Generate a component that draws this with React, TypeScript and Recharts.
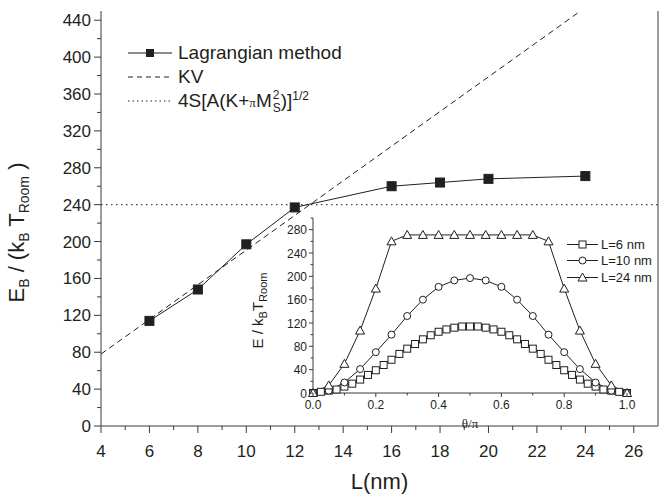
import { LineChart, Line, XAxis, YAxis, ReferenceLine, Legend } from "recharts";

// main plot: barrier energy vs. length
const lengths = [6, 8, 10, 12, 16, 18, 20, 24];
const lagrangianEnergy = [114, 148, 197, 237, 260, 264, 268, 271];
const kvLengths = [4, 23.8];
const kvEnergy = [78, 450];
const analyticLimit = 240;

const mainXTicks = [4, 5, 6, 7, 8, 9, 10, 11, 12, 13, 14, 15, 16, 17, 18, 19, 20, 21, 22, 23, 24, 25, 26];
const mainYTicks = [0, 20, 40, 60, 80, 100, 120, 140, 160, 180, 200, 220, 240, 260, 280, 300, 320, 340, 360, 380, 400, 420, 440];

// inset: energy profile along theta/pi
const theta6 = [
  0, 0.025, 0.05, 0.075, 0.1, 0.125, 0.15, 0.175, 0.2, 0.225, 0.25, 0.275, 0.3, 0.325, 0.35, 0.375, 0.4, 0.425, 0.45, 0.475,
  0.5, 0.525, 0.55, 0.575, 0.6, 0.625, 0.65, 0.675, 0.7, 0.725, 0.75, 0.775, 0.8, 0.825, 0.85, 0.875, 0.9, 0.925, 0.95, 0.975, 1,
];
const energy6 = [
  0, 2, 4, 6, 11, 16, 23, 31, 39, 48, 57, 67, 76, 84, 92, 99, 105, 109, 112, 114,
  114, 114, 112, 109, 105, 99, 92, 84, 76, 67, 57, 48, 39, 31, 23, 16, 11, 6, 4, 2, 0,
];
const theta = [0, 0.05, 0.1, 0.15, 0.2, 0.25, 0.3, 0.35, 0.4, 0.45, 0.5, 0.55, 0.6, 0.65, 0.7, 0.75, 0.8, 0.85, 0.9, 0.95, 1];
const energy10 = [0, 4, 18, 41, 70, 100, 132, 160, 182, 193, 197, 193, 182, 160, 132, 100, 70, 41, 18, 4, 0];
const energy24 = [0, 13, 50, 107, 179, 260, 271, 271, 271, 271, 271, 271, 271, 271, 271, 260, 179, 107, 50, 13, 0];

const insetXTicks = [0, 0.1, 0.2, 0.3, 0.4, 0.5, 0.6, 0.7, 0.8, 0.9, 1];
const insetYTicks = [0, 20, 40, 60, 80, 100, 120, 140, 160, 180, 200, 220, 240, 260, 280, 300];

const FONT = '"Liberation Sans", Arial, Helvetica, sans-serif';
const INK = "#231f20";
const AXIS = "#3a3a3a";

const zip = (xs: number[], ys: number[]) => xs.map((x, i) => ({ x, y: ys[i] }));

const lagrangianData = zip(lengths, lagrangianEnergy);
const kvData = zip(kvLengths, kvEnergy);
const l6Data = zip(theta6, energy6);
const l10Data = zip(theta, energy10);
const l24Data = zip(theta, energy24);

// eslint-disable-next-line @typescript-eslint/no-explicit-any
function MainXTick({ x, y, payload }: any) {
  const major = payload.value % 2 === 0;
  return (
    <g>
      <line x1={x} x2={x} y1={y} y2={y + (major ? 7 : 4)} stroke={AXIS} />
      {major && (
        <text x={x} y={y + 31} textAnchor="middle" fontSize={17} fontFamily={FONT} fill={INK}>
          {payload.value}
        </text>
      )}
    </g>
  );
}

// eslint-disable-next-line @typescript-eslint/no-explicit-any
function TopTick({ x, y, payload }: any) {
  const major = payload.value % 2 === 0;
  return <line x1={x} x2={x} y1={y} y2={y + (major ? 5 : 3)} stroke={AXIS} />;
}

// eslint-disable-next-line @typescript-eslint/no-explicit-any
function MainYTick({ x, y, payload }: any) {
  const major = payload.value % 40 === 0;
  return (
    <g>
      <line x1={x} x2={x - (major ? 7 : 4)} y1={y} y2={y} stroke={AXIS} />
      {major && (
        <text x={x - 10} y={y + 6} textAnchor="end" fontSize={17} fontFamily={FONT} fill={INK}>
          {payload.value}
        </text>
      )}
    </g>
  );
}

// eslint-disable-next-line @typescript-eslint/no-explicit-any
function InsetXTick({ x, y, payload }: any) {
  const major = Math.round(payload.value * 10) % 2 === 0;
  return (
    <g>
      <line x1={x} x2={x} y1={y} y2={y + (major ? 4 : 2.5)} stroke={AXIS} />
      {major && (
        <text x={x} y={y + 16} textAnchor="middle" fontSize={12} fontFamily={FONT} fill={INK}>
          {payload.value.toFixed(1)}
        </text>
      )}
    </g>
  );
}

// eslint-disable-next-line @typescript-eslint/no-explicit-any
function InsetYTick({ x, y, payload }: any) {
  const major = payload.value % 40 === 0 && payload.value < 300;
  return (
    <g>
      <line x1={x} x2={x - (major ? 4 : 2.5)} y1={y} y2={y} stroke={AXIS} />
      {major && (
        <text x={x - 6} y={y + 4.5} textAnchor="end" fontSize={12} fontFamily={FONT} fill={INK}>
          {payload.value}
        </text>
      )}
    </g>
  );
}

// eslint-disable-next-line @typescript-eslint/no-explicit-any
const squareDot = (size: number, fill: string) => (p: any) => (
  <rect key={p.index} x={p.cx - size / 2} y={p.cy - size / 2} width={size} height={size} fill={fill} stroke={INK} strokeWidth={1} />
);
// eslint-disable-next-line @typescript-eslint/no-explicit-any
const circleDot = (p: any) => <circle key={p.index} cx={p.cx} cy={p.cy} r={3.5} fill="#fff" stroke={INK} strokeWidth={1} />;
// eslint-disable-next-line @typescript-eslint/no-explicit-any
const triangleDot = (p: any) => (
  <path
    key={p.index}
    d={`M${p.cx},${p.cy - 4.5}L${p.cx + 4.5},${p.cy + 3.5}L${p.cx - 4.5},${p.cy + 3.5}Z`}
    fill="#fff"
    stroke={INK}
    strokeWidth={1}
  />
);

function MainLegend() {
  const row = { display: "flex", alignItems: "center", height: 24 } as const;
  return (
    <div style={{ fontFamily: FONT, fontSize: 19, color: INK }}>
      <div style={row}>
        <svg width={44} height={12}>
          <line x1={0} x2={44} y1={6} y2={6} stroke="#666" strokeWidth={1.5} />
          <rect x={18} y={2} width={8} height={8} fill={INK} />
        </svg>
        <span style={{ marginLeft: 6 }}>Lagrangian method</span>
      </div>
      <div style={row}>
        <svg width={44} height={12}>
          <line x1={0} x2={44} y1={6} y2={6} stroke={INK} strokeDasharray="5 4" />
        </svg>
        <span style={{ marginLeft: 6 }}>KV</span>
      </div>
      <div style={row}>
        <svg width={44} height={12}>
          <line x1={0} x2={44} y1={6} y2={6} stroke={INK} strokeDasharray="1.5 3" />
        </svg>
        <span style={{ marginLeft: 6, whiteSpace: "nowrap" }}>
          4S[A(K+<span style={{ fontFamily: '"Liberation Serif", serif', fontSize: 13 }}>π</span>M
          <span style={{ position: "relative", display: "inline-block", width: 9, height: 10 }}>
            <span style={{ position: "absolute", left: 1, top: -10, fontSize: 12 }}>2</span>
            <span style={{ position: "absolute", left: 1, top: 3, fontSize: 12 }}>S</span>
          </span>
          )]<sup style={{ fontSize: 12 }}>1/2</sup>
        </span>
      </div>
    </div>
  );
}

function InsetLegend() {
  const row = { display: "flex", alignItems: "center", height: 16.5 } as const;
  const items = [
    { label: "L=6 nm", marker: <rect x={12} y={3} width={7} height={7} fill="#fff" stroke={INK} /> },
    { label: "L=10 nm", marker: <circle cx={15.5} cy={6.5} r={3.5} fill="#fff" stroke={INK} /> },
    { label: "L=24 nm", marker: <path d="M15.5,2L20,10L11,10Z" fill="#fff" stroke={INK} /> },
  ];
  return (
    <div style={{ fontFamily: FONT, fontSize: 13, color: INK }}>
      {items.map((it) => (
        <div key={it.label} style={row}>
          <svg width={31} height={13}>
            <line x1={0} x2={31} y1={6.5} y2={6.5} stroke={INK} />
            {it.marker}
          </svg>
          <span style={{ marginLeft: 3 }}>{it.label}</span>
        </div>
      ))}
    </div>
  );
}

// eslint-disable-next-line @typescript-eslint/no-explicit-any
const mainYLabel = (props: any) => {
  const vb = props.viewBox;
  const cx = 24;
  const cy = vb.y + vb.height / 2 + 14;
  return (
    <text transform={`translate(${cx},${cy}) rotate(-90)`} textAnchor="middle" fontFamily={FONT} fontSize={22} fill={INK}>
      <tspan>E</tspan>
      <tspan fontSize={14} dy={5}>B</tspan>
      <tspan dy={-5}> / (k</tspan>
      <tspan fontSize={14} dy={5}>B</tspan>
      <tspan dy={-5}> T</tspan>
      <tspan fontSize={14} dy={5}>Room</tspan>
      <tspan dy={-5}> )</tspan>
    </text>
  );
};

// eslint-disable-next-line @typescript-eslint/no-explicit-any
const mainXLabel = (props: any) => {
  const vb = props.viewBox;
  return (
    <text x={vb.x + vb.width / 2} y={vb.y + 63} textAnchor="middle" fontFamily={FONT} fontSize={22} fill={INK}>
      L(nm)
    </text>
  );
};

// eslint-disable-next-line @typescript-eslint/no-explicit-any
const insetYLabel = (props: any) => {
  const vb = props.viewBox;
  const cx = 23;
  const cy = vb.y + vb.height / 2 + 5;
  return (
    <text transform={`translate(${cx},${cy}) rotate(-90)`} textAnchor="middle" fontFamily={FONT} fontSize={15} fill={INK}>
      <tspan>E / k</tspan>
      <tspan fontSize={11} dy={4}>B</tspan>
      <tspan dy={-4}>T</tspan>
      <tspan fontSize={11} dy={4}>Room</tspan>
    </text>
  );
};

// eslint-disable-next-line @typescript-eslint/no-explicit-any
const insetXLabel = (props: any) => {
  const vb = props.viewBox;
  return (
    <text x={vb.x + vb.width / 2} y={vb.y + 35} textAnchor="middle" fontFamily='"Liberation Serif", "DejaVu Serif", serif' fontSize={13} fill={INK}>
      θ/π
    </text>
  );
};

export default function App() {
  return (
    <div style={{ position: "absolute", left: 0, top: 0, width: 660, height: 494, background: "#fff" }}>
      <LineChart width={660} height={494} margin={{ top: 11, right: 2, bottom: 0, left: 0 }}>
        <XAxis
          dataKey="x"
          type="number"
          domain={[4, 27]}
          ticks={mainXTicks}
          interval={0}
          height={68}
          tickSize={0}
          tickMargin={0}
          tick={<MainXTick />}
          axisLine={{ stroke: AXIS }}
          allowDataOverflow
          label={{ content: mainXLabel }}
        />
        <XAxis
          xAxisId="top"
          orientation="top"
          type="number"
          domain={[4, 27]}
          ticks={mainXTicks}
          interval={0}
          height={0}
          tickSize={0}
          tickMargin={0}
          tick={<TopTick />}
          axisLine={{ stroke: AXIS }}
        />
        <YAxis
          type="number"
          domain={[0, 450]}
          ticks={mainYTicks}
          interval={0}
          width={101}
          tickSize={0}
          tickMargin={0}
          tick={<MainYTick />}
          axisLine={{ stroke: AXIS }}
          allowDataOverflow
          label={{ content: mainYLabel }}
        />
        <ReferenceLine x={27} stroke={AXIS} />
        <ReferenceLine y={analyticLimit} stroke="#444" strokeDasharray="1.5 3.5" strokeWidth={1.3} />
        <Line
          data={kvData}
          dataKey="y"
          stroke={INK}
          strokeWidth={1}
          strokeDasharray="6 4"
          dot={false}
          isAnimationActive={false}
        />
        <Line
          data={lagrangianData}
          dataKey="y"
          stroke={INK}
          strokeWidth={1}
          dot={squareDot(9, INK)}
          isAnimationActive={false}
        />
        <Legend
          layout="vertical"
          align="center"
          verticalAlign="middle"
          content={<MainLegend />}
          wrapperStyle={{ left: 128, top: 41, width: 280 }}
        />
      </LineChart>

      <div style={{ position: "absolute", left: 240, top: 205, width: 420, height: 230 }}>
        <LineChart width={420} height={230} margin={{ top: 13, right: 33, bottom: 0, left: 0 }}>
          <XAxis
            dataKey="x"
            type="number"
            domain={[0, 1]}
            ticks={insetXTicks}
            interval={0}
            height={42}
            tickSize={0}
            tickMargin={0}
            tick={<InsetXTick />}
            axisLine={{ stroke: AXIS }}
            label={{ content: insetXLabel }}
          />
          <YAxis
            type="number"
            domain={[0, 300]}
            ticks={insetYTicks}
            interval={0}
            width={73}
            tickSize={0}
            tickMargin={0}
            tick={<InsetYTick />}
            axisLine={{ stroke: AXIS }}
            label={{ content: insetYLabel }}
          />
          <Line data={l6Data} dataKey="y" stroke={INK} strokeWidth={1} dot={squareDot(7, "#fff")} isAnimationActive={false} />
          <Line data={l10Data} dataKey="y" stroke={INK} strokeWidth={1} dot={circleDot} isAnimationActive={false} />
          <Line data={l24Data} dataKey="y" stroke={INK} strokeWidth={1} dot={triangleDot} isAnimationActive={false} />
          <Legend
            layout="vertical"
            align="center"
            verticalAlign="middle"
            content={<InsetLegend />}
            wrapperStyle={{ left: 327, top: 31, width: 95 }}
          />
        </LineChart>
      </div>
    </div>
  );
}
